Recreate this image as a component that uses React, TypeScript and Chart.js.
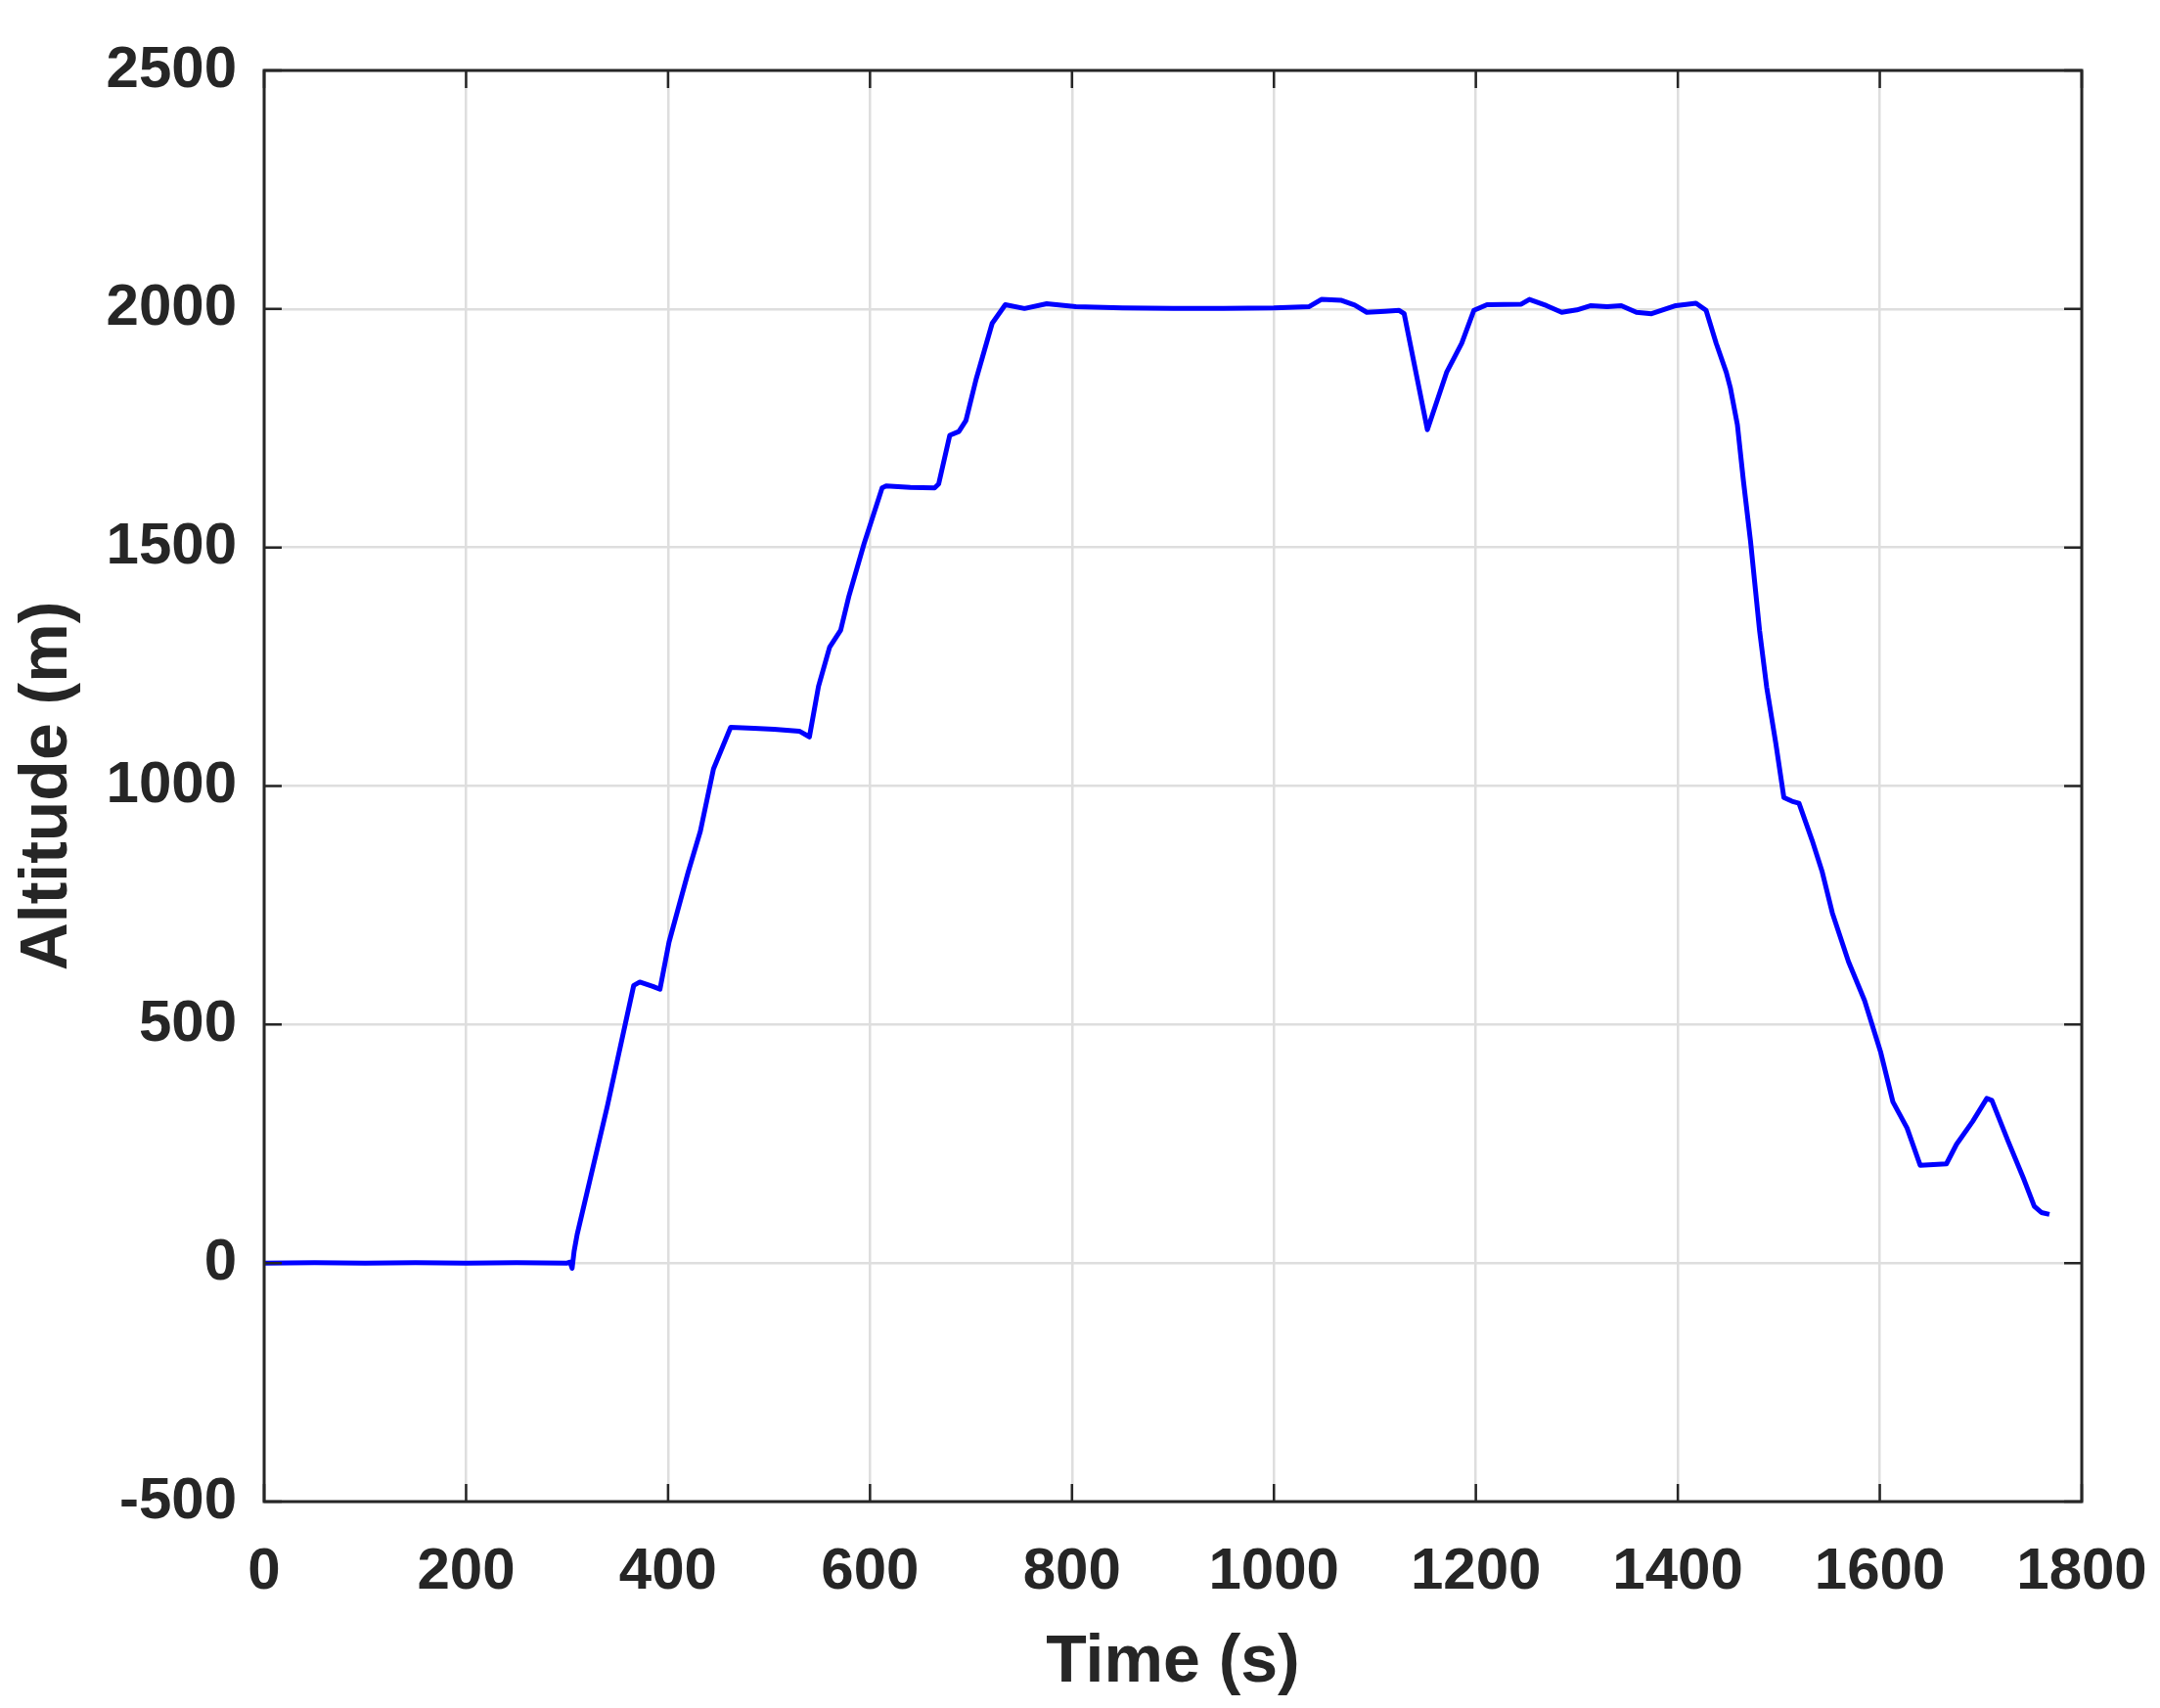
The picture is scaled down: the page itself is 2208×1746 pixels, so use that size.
import React, { useEffect, useRef } from "react";
import { Chart, registerables } from "chart.js";

Chart.register(...registerables);

// Time (s)
const timeSec = [
  0, 50, 100, 150, 200, 250, 300, 303, 305, 307, 310, 340, 366, 372, 385, 392,
  401, 420, 432, 445, 462, 485, 505, 530, 540, 549, 560, 571, 579, 594, 612,
  616, 640, 664, 668, 679, 688, 695, 705, 721, 734, 753, 775, 804, 850, 900,
  950, 1000, 1035, 1047, 1067, 1080, 1092, 1110, 1124, 1129, 1152, 1171, 1186,
  1198, 1211, 1245, 1253, 1270, 1285, 1300, 1314, 1330, 1344, 1359, 1374, 1398,
  1418, 1428, 1438, 1448, 1452, 1459, 1465, 1472, 1481, 1488, 1497, 1505, 1513,
  1520, 1533, 1543, 1553, 1569, 1585, 1601, 1613, 1627, 1640, 1666, 1676, 1692,
  1706, 1711, 1727, 1743, 1753, 1760, 1768,
];

// Altitude (m)
const altitudeM = [
  0, 1, 0, 1, 0, 1, 0, 2, -11, 25, 60, 330, 582, 589, 580, 574,
  673, 820, 905, 1036, 1123, 1121, 1119, 1115, 1103, 1209, 1291, 1327, 1397, 1507, 1625,
  1629, 1626, 1625, 1633, 1735, 1743, 1766, 1852, 1970, 2009, 2001, 2011, 2005, 2002, 2001,
  2001, 2002, 2005, 2020, 2018, 2008, 1993, 1995, 1997, 1990, 1747, 1867, 1928,
  1997, 2009, 2010, 2020, 2007, 1993, 1998, 2007, 2005, 2007, 1993, 1990, 2007,
  2012, 1997, 1928, 1867, 1835, 1757, 1639, 1513, 1325, 1207, 1090, 976, 968,
  964, 886, 820, 734, 632, 550, 441, 338, 283, 205, 208, 249, 297,
  345, 341, 256, 174, 119, 106, 102,
];

const xAxisTitle = "Time (s)";
const yAxisTitle = "Altitude (m)";
const xMin = 0;
const xMax = 1800;
const xStep = 200;
const yMin = -500;
const yMax = 2500;
const yStep = 500;

const FONT = "'Liberation Sans', Arial, Helvetica, sans-serif";
const AXIS_COLOR = "#262626";

const boxPlugin = {
  id: "matlabBox",
  afterDatasetsDraw(chart: any) {
    const { ctx, chartArea: a, scales } = chart;
    const tl = 18;
    ctx.save();
    ctx.strokeStyle = AXIS_COLOR;
    ctx.lineWidth = 2.5;
    ctx.beginPath();
    scales.x.ticks.forEach((t: any) => {
      const px = scales.x.getPixelForValue(t.value);
      ctx.moveTo(px, a.bottom);
      ctx.lineTo(px, a.bottom - tl);
      ctx.moveTo(px, a.top);
      ctx.lineTo(px, a.top + tl);
    });
    scales.y.ticks.forEach((t: any) => {
      const py = scales.y.getPixelForValue(t.value);
      ctx.moveTo(a.left, py);
      ctx.lineTo(a.left + tl, py);
      ctx.moveTo(a.right, py);
      ctx.lineTo(a.right - tl, py);
    });
    ctx.stroke();
    ctx.lineWidth = 3;
    ctx.strokeRect(a.left, a.top, a.right - a.left, a.bottom - a.top);
    ctx.restore();
  },
};

export default function App() {
  const canvasRef = useRef<HTMLCanvasElement | null>(null);

  useEffect(() => {
    const canvas = canvasRef.current;
    if (!canvas) return;
    const points = timeSec.map((t, i) => ({ x: t, y: altitudeM[i] }));
    const chart = new Chart(canvas, {
      type: "line",
      data: {
        datasets: [
          {
            label: "Altitude",
            data: points,
            borderColor: "#0000ff",
            borderWidth: 5,
            pointRadius: 0,
            tension: 0,
            fill: false,
            borderJoinStyle: "round",
          },
        ],
      },
      options: {
        responsive: false,
        animation: false,
        maintainAspectRatio: false,
        layout: { padding: { left: 0, top: 72, right: 80, bottom: 0 } },
        plugins: {
          legend: { display: false },
          tooltip: { enabled: false },
        },
        scales: {
          x: {
            type: "linear",
            min: xMin,
            max: xMax,
            afterFit: (scale: any) => {
              scale.height = 211;
              scale.paddingLeft = 0;
              scale.paddingRight = 0;
            },
            ticks: {
              stepSize: xStep,
              autoSkip: false,
              maxRotation: 0,
              color: AXIS_COLOR,
              padding: 36,
              font: { family: FONT, size: 60, weight: "bold" },
              callback: (v: any) => String(v),
            },
            grid: { color: "#dedede", lineWidth: 2.5, drawTicks: false },
            border: { display: false },
            title: {
              display: true,
              text: xAxisTitle,
              color: AXIS_COLOR,
              font: { family: FONT, size: 68, weight: "bold" },
              padding: { top: 0, bottom: 5 },
            },
          },
          y: {
            type: "linear",
            min: yMin,
            max: yMax,
            afterFit: (scale: any) => {
              scale.width = 270;
              scale.paddingTop = 0;
              scale.paddingBottom = 0;
            },
            ticks: {
              stepSize: yStep,
              autoSkip: false,
              color: AXIS_COLOR,
              padding: 28,
              font: { family: FONT, size: 60, weight: "bold" },
              callback: (v: any) => String(v),
            },
            grid: { color: "#dedede", lineWidth: 2.5, drawTicks: false },
            border: { display: false },
            title: {
              display: true,
              text: yAxisTitle,
              color: AXIS_COLOR,
              font: { family: FONT, size: 68, weight: "bold" },
              padding: { top: 8, bottom: 0 },
            },
          },
        },
      },
      plugins: [boxPlugin],
    } as any);
    return () => chart.destroy();
  }, []);

  return (
    <div style={{ position: "absolute", left: 0, top: 0, width: 2208, height: 1746, background: "#ffffff" }}>
      <canvas ref={canvasRef} width={2208} height={1746} style={{ display: "block" }} />
    </div>
  );
}
